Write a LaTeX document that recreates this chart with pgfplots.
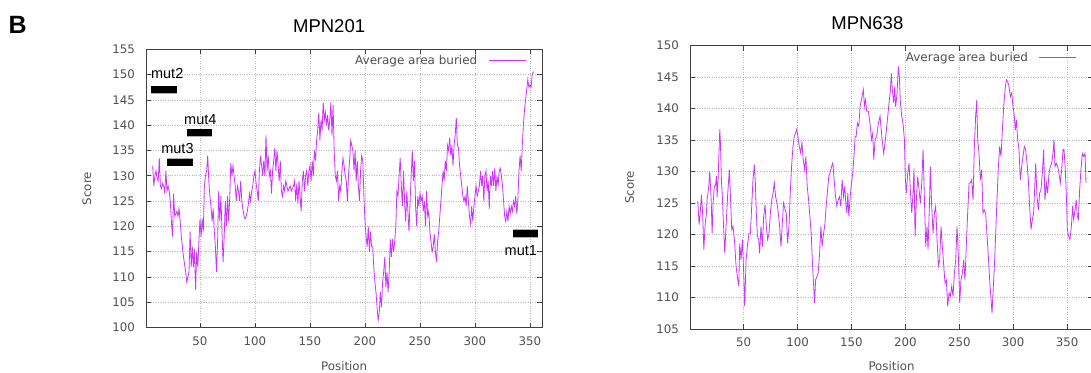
\documentclass[border=0pt]{standalone}
\usepackage{fontspec}
\setmainfont{DejaVu Sans}
\newfontfamily\arial{Liberation Sans}
\usepackage{pgfplots}
\pgfplotsset{compat=1.18}
\definecolor{gviolet}{RGB}{204,51,255}
\definecolor{txtgray}{RGB}{80,80,80}
\pgfplotsset{
  gnu/.style={
    scale only axis,
    axis line style={black!75, line width=0.9pt},
    tick align=inside, major tick length=5pt,
    tick style={black!75, line width=0.8pt},
    grid=major, grid style={dotted, gray!55, line width=0.7pt},
    /pgf/number format/assume math mode=true,
    ticklabel style={font=\fontsize{11.8}{13}\selectfont, text=txtgray},
    xticklabel style={yshift=-5.5pt},
    yticklabel style={xshift=-7.5pt},
    label style={font=\fontsize{11.8}{13}\selectfont, text=txtgray},
    xtick={50,100,...,350},
    legend plot pos=right,
    legend cell align=right,
    legend image code/.code={\draw[#1] (0pt,0pt) -- (37pt,0pt);},
    legend style={draw=none, fill=none, font=\fontsize{12}{13}\selectfont, text=txtgray,
      anchor=north east, inner sep=0pt, column sep=9pt},
  }
}
\begin{document}
\begin{tikzpicture}
\useasboundingbox (0,0) rectangle (1091pt,372pt);
\clip (0,0) rectangle (1091pt,372pt);
\node[anchor=base west, inner sep=0pt, font=\arial\bfseries\fontsize{25}{27}\selectfont] at (8.5pt,338pt) {B};
% ---------------- MPN201 ----------------
\begin{axis}[gnu,
  at={(146pt,44.3pt)}, anchor=south west,
  width=396.3pt, height=278.4pt,
  xmin=0.91, xmax=361.2, ymin=100, ymax=155,
  ytick={100,105,...,155},
  title={MPN201},
  title style={at={(axis description cs:0.462,1.062)}, anchor=center, font=\arial\fontsize{18.5}{20}\selectfont},
  xlabel={Position}, ylabel={Score},
  xlabel style={at={(axis description cs:0.5,-0.1376)}, anchor=center},
  ylabel style={at={(axis description cs:-0.149,0.5)}, anchor=center},
  legend style={at={(axis description cs:1,1)}, xshift=-16pt, yshift=-4pt},
]
\addplot[gviolet, line width=0.8pt] table {
7 132
8 128
9 130
10 131
11 129.5
12 129
13 133.5
14 128
15 127.5
16 128.5
17 128
18 126.5
19 131
20 127
21 128
22 127
23 125
24 121
25 118
26 126.5
27 122
28 122.5
29 123
30 122
31 123.5
32 121
33 118
34 116
35 114
36 112.5
37 111
38 109
39 110
40 111
41 119
42 112
43 116
44 112
45 115.5
46 107.5
47 115
48 112
49 117
50 121.5
51 118
52 121.5
53 119
54 128
55 130
56 131
57 134
58 129
59 126
60 124
61 121
62 123.5
63 119
64 116
65 111
66 117
67 127
68 121
69 126
70 119
71 113
72 118
73 125
74 120
75 126
76 121
77 125.5
78 132.5
79 130
80 132
81 130
82 128
83 125
84 128
85 127
86 125
87 129
88 125
89 123.5
90 122
91 121.5
92 122
93 123
94 124.5
95 126.5
96 125
97 127
98 128
99 130
100 131
101 128.5
102 127
103 125
104 131
105 134
106 132
107 130
108 133
109 130
110 138
111 131
112 134
113 130
114 131
115 126.5
116 131
117 133
118 135.5
119 131
120 135
121 132
122 129
123 133
124 127
125 126
126 128
127 127
128 129
129 128
130 127
131 127.5
132 128
133 127
134 127.5
135 128
136 129
137 125
138 128.5
139 124.5
140 129
141 126
142 123
143 129
144 131
145 127
146 130
147 131
148 128
149 131
150 132
151 129
152 133
153 130
154 135
155 133
156 137
157 139
158 142.5
159 137
160 141
161 139
162 144.5
163 141
164 142.5
165 140
166 142
167 139
168 141
169 144.5
170 138
171 144
172 135
173 130
174 129
175 131
176 125
177 128
178 127
179 131
180 133.5
181 132
182 130
183 129
184 125
185 130
186 133
187 137
188 136
189 135
190 131
191 135
192 129
193 133
194 128
195 125
196 131
197 134
198 133
199 126
200 121
201 118
202 116
203 120
204 115
205 119
206 116
207 116
208 112
209 109
210 107
211 104
212 101.5
213 103
214 107
215 104
216 109
217 111
218 114
219 108
220 111
221 107
222 111
223 117.5
224 114
225 117.5
226 115
227 117
228 120
229 127
230 126
231 130
232 133.5
233 128
234 124
235 131
236 125
237 121
238 127
239 123
240 119
241 125
242 130
243 135
244 129
245 133
246 124
247 120
248 126
249 124
250 126.5
251 125
252 126
253 123
254 125
255 120
256 127
257 122
258 123
259 119
260 117
261 115
262 116
263 118.5
264 115
265 113
266 117
267 119
268 122
269 125
270 128
271 131
272 129
273 133
274 131
275 136
276 135
277 137.5
278 134
279 136
280 132
281 136
282 138
283 141.5
284 136
285 135.5
286 132
287 130
288 128
289 126
290 125
291 126
292 124
293 128
294 125
295 122
296 120.5
297 124
298 121
299 124
300 126
301 128
302 126
303 127
304 128
305 131
306 128
307 130
308 125
309 130
310 131
311 127
312 129
313 123.5
314 130
315 128
316 131
317 128
318 131.5
319 127
320 130
321 128
322 131
323 131.5
324 130
325 128
326 125
327 122
328 121
329 123
330 121
331 124
332 122.5
333 124
334 123
335 125
336 124
337 126
338 122.5
339 125.5
340 131
341 134
342 131
343 136
344 140
345 143
346 145
347 147
348 149
349 147.5
350 148
351 147.5
352 150
353 150.5
354 150.5
};
\addlegendentry{Average area buried}
% mutation bars
\addplot[black, line width=6.7pt, forget plot, preaction={draw=black!30, line width=8.5pt}] coordinates {(5.5,147) (28.8,147)};
\addplot[black, line width=6.7pt, forget plot, preaction={draw=black!30, line width=8.5pt}] coordinates {(37.9,138.5) (61.2,138.5)};
\addplot[black, line width=6.7pt, forget plot, preaction={draw=black!30, line width=8.5pt}] coordinates {(20.3,132.7) (43.4,132.7)};
\addplot[black, line width=6.7pt, forget plot, preaction={draw=black!30, line width=8.5pt}] coordinates {(334.8,118.6) (357.5,118.6)};
\node[font=\arial\fontsize{14.5}{16}\selectfont, inner sep=0pt] at (axis cs:20.2,150.2) {mut2};
\node[font=\arial\fontsize{14.5}{16}\selectfont, inner sep=0pt] at (axis cs:50.3,141.2) {mut4};
\node[font=\arial\fontsize{14.5}{16}\selectfont, inner sep=0pt] at (axis cs:29.5,135.4) {mut3};
\node[font=\arial\fontsize{14.5}{16}\selectfont, inner sep=0pt] at (axis cs:341.7,115.2) {mut1};
\end{axis}
% ---------------- MPN638 ----------------
\begin{axis}[gnu,
  at={(690pt,43pt)}, anchor=south west,
  width=403pt, height=283.3pt,
  xmin=0.17, xmax=374.1, ymin=105, ymax=150,
  ytick={105,110,...,150},
  title={MPN638},
  title style={at={(axis description cs:0.440,1.060)}, anchor=center, font=\arial\fontsize{18.5}{20}\selectfont},
  xlabel={Position}, ylabel={Score},
  xlabel style={at={(axis description cs:0.5,-0.1306)}, anchor=center},
  ylabel style={at={(axis description cs:-0.150,0.5)}, anchor=center},
  legend style={at={(axis description cs:1,1)}, xshift=-16pt, yshift=-4pt},
]
\addplot[gviolet, line width=0.8pt] table {
7.4 125.3
8.6 121.6
9.9 124
10.8 126.3
12 122.9
13 117.6
14.2 121.6
15.4 123.4
16 125.5
17.6 127.7
18.5 130
19.8 125.5
20.7 120.2
21.6 125
22.8 127.7
23.8 127.7
24.7 129.3
25.3 126
26.2 128.7
27.8 136.7
28.4 134.6
29.3 128.7
30.2 126
31.2 121.8
32.4 117
33.6 121.3
35.2 126.6
36.7 130.3
37.7 126
38.9 120.8
40.1 121.3
41.4 119.2
42.9 115
44.1 113.3
45.4 111.8
46.3 118.6
47.5 116
48.8 119.2
50 113.9
50.9 108.6
52.2 116
53.7 118.6
54.9 120.2
56.2 120.2
57.4 124.5
58.6 128.7
59.9 131.1
60.8 128.2
61.7 123.4
62.7 119.7
63.9 119.2
64.8 117
66 121.3
67.3 118.1
68.5 122.9
69.8 124.7
71 121.3
72.2 119.2
73.5 120.2
74.7 123.4
76 125.5
77.2 126.6
78.4 128.2
79.6 126
80.9 125
82.1 123.4
83.3 121.3
84.6 118.1
85.8 121.8
87 125
88.3 124
89.5 123.4
90.7 118.6
92 121.3
93.2 126.6
94.4 130.8
95.7 134
96.9 135.6
98.1 136.1
99.1 136.7
100.3 135.6
101.5 134
102.8 133
104 134.6
105.2 131.9
106.5 130.3
107.7 132.4
108.9 127.7
110.2 125.5
111.4 122.9
112.6 120.2
113.9 115
114.8 112.3
115.7 109.1
116.7 112.8
117.9 113.3
119.1 113.9
120.4 117
121.6 121.3
122.8 118.1
124.1 120.2
125.3 121.6
126.5 124.5
127.8 127.1
129 129.3
130.2 129.8
131.5 130.8
132.7 131.4
133.9 128.7
135.2 126
136.4 124.5
137.6 125.5
138.9 126
140.1 124.5
141.3 128.7
142.6 126
143.8 127.7
144.7 125
145.7 123.4
146.6 126.6
147.5 122.9
148.8 126
150 128.2
151.2 129.8
152.5 133
153.4 135.6
154.3 135.6
155.5 137.7
156.8 137.2
158 140.4
159.2 141.4
160.5 142.5
161 143
162 140.4
162.9 141.4
164.2 139.6
165.7 139.6
167.3 137.5
168.5 135.1
169.7 136.1
170.7 131.9
171.9 135.1
173.4 135.6
175 137.7
176.5 138.8
178.4 135.1
179.9 132.9
181.5 135.1
183 137.7
184.5 140.3
186.1 143
187 145.6
187.9 143
189.2 140.9
190.1 143.5
191 140.3
192.3 142.5
193.5 146.7
194.4 145.1
195.4 140.9
196.6 138.8
197.8 137.7
199.1 135.1
200 128.7
200.9 126.6
202.2 129.8
203.4 131.3
204.6 127.1
205.9 123.4
207.1 126.6
208 130.5
209 119.7
210.2 125.5
211.4 129.2
212.7 127.1
213.9 125
215.2 128.2
216.4 133.5
217.6 126.1
218.9 118.1
220.1 121.3
221 117.6
222.3 124.5
223.2 130.8
224.4 124.5
225.7 120.2
226.9 123.4
228.1 124.5
229.4 119.2
230.6 115
231.8 116
233.1 121.3
234.3 118.1
235.6 115
236.8 112.3
238 112.8
239.3 108.6
240.5 110.7
241.7 110.2
243 111.8
244.2 110.2
245.5 113.9
246.7 116
247.9 121.3
249.2 116.5
250.4 109.1
251.6 112.8
252.9 113.9
254.1 116
255.3 112.8
256.6 118.6
257.8 123.4
259.1 128.2
260.3 128.2
261.5 128.7
262.8 125.5
264 134
265.2 138.8
266.2 141.4
267.1 135.1
268.3 132.9
269.6 128.7
270.8 130.3
272 123.4
273.3 123.9
274.5 123.4
275.8 119.7
277 116.5
278.2 112.8
279.5 109.7
280.4 107.5
281.3 110.7
282.6 115
283.8 120.2
285 125.5
286.3 130.8
287.5 134
288.7 132.4
290 136.6
291.2 140.3
292.5 143
293.7 144.6
294.9 144.3
296.2 143.5
297.4 141.9
298.6 142.5
299.9 140.3
301.1 138.8
302 136.6
303 138.2
304.2 135.1
305.4 133.5
306.7 128.7
307.9 130.8
309.1 132.4
310.4 134
311.6 133.5
312.9 131.3
314.1 128.7
315.3 124.5
316.6 120.8
317.8 122.4
319 123.4
320.3 128.7
320.9 131.3
322.1 126.1
323.4 123.9
324.6 126.6
325.8 127.1
327.1 129.8
328.3 133.5
329.5 125.5
330.8 128.2
332 126.6
333.3 129.8
334.5 130.8
335.7 131.3
337 132.9
337.9 135.1
338.8 130.8
340.1 131.3
341.3 130.8
342.5 129.8
343.8 128.2
345 130.3
346.3 133.5
347.2 133.5
348.4 130.3
349.3 126.6
350.3 120.8
351.5 119.7
352.7 119.2
354 121.3
355.2 124.5
356.1 122.4
357.4 123.9
358.6 125.5
359.5 122.9
360.5 122.4
361.7 127.1
362.9 130.3
364.2 132.9
365.4 132.4
366.7 132.9
367.6 128.2
};
\addlegendentry{Average area buried}
\end{axis}
\end{tikzpicture}
\end{document}
